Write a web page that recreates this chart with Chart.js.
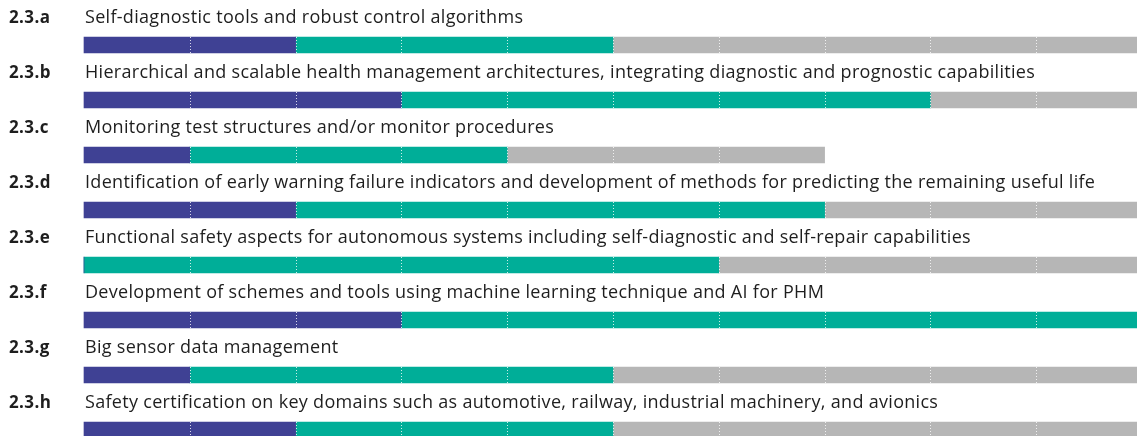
<!DOCTYPE html>
<html>
<head>
<meta charset="utf-8">
<script src="https://cdn.jsdelivr.net/npm/chart.js@4.4.1/dist/chart.umd.min.js"></script>
<style>
  html, body { margin: 0; padding: 0; background: #fff; overflow: hidden; }
  #wrap { width: 1142px; height: 436px; position: relative; }
</style>
</head>
<body>
<div id="wrap"><canvas id="roadmap"></canvas></div>
<script>
// ====== DATA ======
const codes = ['2.3.a','2.3.b','2.3.c','2.3.d','2.3.e','2.3.f','2.3.g','2.3.h'];
const titles = [
  'Self-diagnostic tools and robust control algorithms',
  'Hierarchical and scalable health management architectures, integrating diagnostic and prognostic capabilities',
  'Monitoring test structures and/or monitor procedures',
  'Identification of early warning failure indicators and development of methods for predicting the remaining useful life',
  'Functional safety aspects for autonomous systems including self-diagnostic and self-repair capabilities',
  'Development of schemes and tools using machine learning technique and AI for PHM',
  'Big sensor data management',
  'Safety certification on key domains such as automotive, railway, industrial machinery, and avionics'
];
const purpleYears = [2, 3, 1, 2, 0, 3, 1, 2];
const greenYears  = [3, 5, 3, 5, 6, 7, 4, 3];
const greyYears   = [5, 2, 3, 3, 4, 0, 5, 5];
const yearCount = 10;

// ====== PLUGIN: labels + dotted unit separators ======
const roadmapPlugin = {
  id: 'roadmap',
  afterDatasetsDraw(chart) {
    const { ctx, scales: { x, y } } = chart;
    const meta = chart.getDatasetMeta(0);
    ctx.save();
    ctx.strokeStyle = 'rgba(255,255,255,0.8)';
    ctx.lineWidth = 1;
    ctx.setLineDash([1, 2]);
    codes.forEach((c, i) => {
      const el = meta.data[i];
      const top = el.y - el.height / 2;
      const bottom = el.y + el.height / 2;
      const total = purpleYears[i] + greenYears[i] + greyYears[i];
      for (let k = 1; k < total; k++) {
        const px = Math.round(x.getPixelForValue(k)) + 0.5;
        ctx.beginPath();
        ctx.moveTo(px, top);
        ctx.lineTo(px, bottom);
        ctx.stroke();
      }
    });
    ctx.setLineDash([]);
    ctx.fillStyle = '#1e1e1e';
    ctx.textBaseline = 'middle';
    codes.forEach((c, i) => {
      const ty = y.getPixelForValue(i) - 27;
      ctx.font = 'bold 17px "Open Sans"';
      ctx.letterSpacing = '0.4px';
      ctx.fillText(c, 9, ty);
      ctx.font = '18px "Open Sans"';
      ctx.letterSpacing = '0.3px';
      ctx.fillText(titles[i], 85, ty);
    });
    ctx.restore();
  }
};

// ====== CHART.JS INITIALIZATION ======
new Chart(document.getElementById('roadmap'), {
  type: 'bar',
  data: {
    labels: codes,
    datasets: [
      { data: purpleYears, backgroundColor: '#3f4194' },
      { data: greenYears,  backgroundColor: '#00ae98' },
      { data: greyYears,   backgroundColor: '#b6b6b6' }
    ].map(d => Object.assign(d, { barThickness: 16, borderWidth: 0, borderSkipped: false, clip: false }))
  },
  options: {
    indexAxis: 'y',
    responsive: true,
    maintainAspectRatio: false,
    animation: false,
    layout: { padding: { left: 84, right: 0, top: 45, bottom: 6 } },
    plugins: { legend: { display: false }, tooltip: { enabled: false } },
    scales: {
      x: { stacked: true, min: 0, max: yearCount, display: false },
      y: { stacked: true, offset: false, display: false }
    }
  },
  plugins: [roadmapPlugin]
});
</script>
</body>
</html>
